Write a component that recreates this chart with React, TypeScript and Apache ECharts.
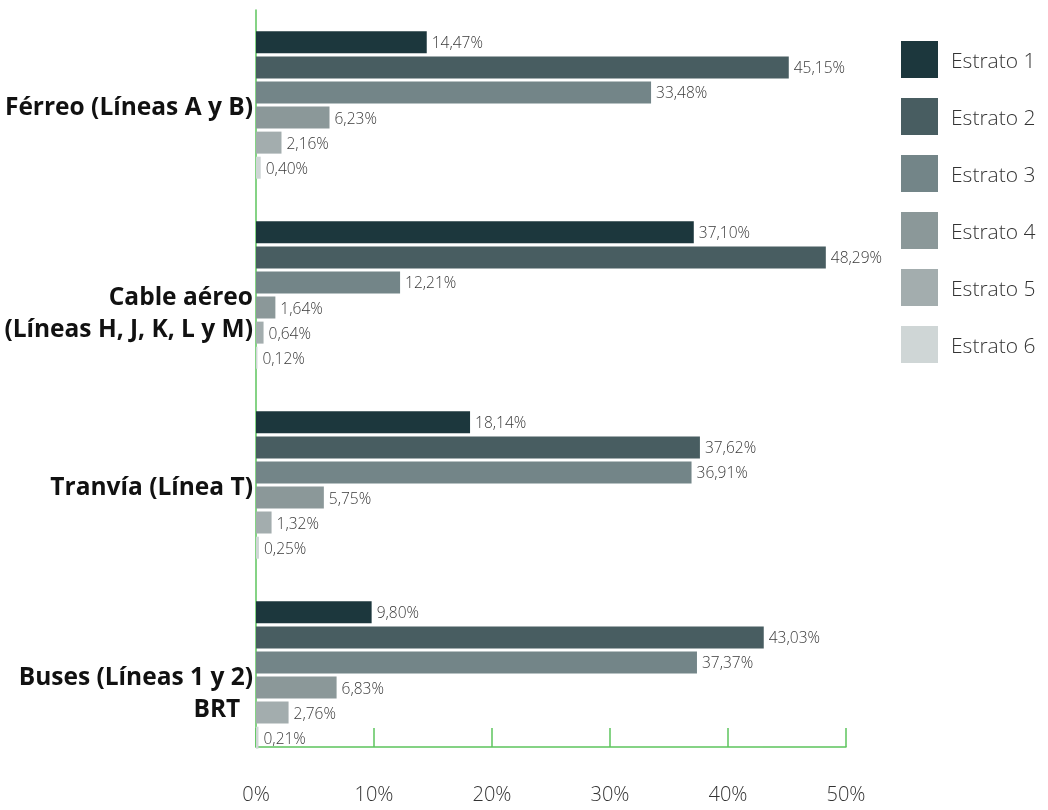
import React, { useEffect, useRef } from "react";
import * as echarts from "echarts";

const categories = [
  "Férreo (Líneas A y B)",
  "Cable aéreo\n(Líneas H, J, K, L y M)",
  "Tranvía (Línea T)",
  "Buses (Líneas 1 y 2)\nBRT  ",
];
const seriesNames = ["Estrato 1", "Estrato 2", "Estrato 3", "Estrato 4", "Estrato 5", "Estrato 6"];
const estrato1 = [14.47, 37.1, 18.14, 9.8];
const estrato2 = [45.15, 48.29, 37.62, 43.03];
const estrato3 = [33.48, 12.21, 36.91, 37.37];
const estrato4 = [6.23, 1.64, 5.75, 6.83];
const estrato5 = [2.16, 0.64, 1.32, 2.76];
const estrato6 = [0.4, 0.12, 0.25, 0.21];
const colors = ["#1c373d", "#485d61", "#738588", "#8b9899", "#a3adae", "#cfd6d6"];
const xTicks = [0, 10, 20, 30, 40, 50];

const GREEN = "#5cc45c";

export default function App() {
  const ref = useRef<HTMLDivElement>(null);
  useEffect(() => {
    if (!ref.current) return;
    const chart = echarts.init(ref.current, null, { renderer: "svg" });
    const all = [estrato1, estrato2, estrato3, estrato4, estrato5, estrato6];
    chart.setOption({
      animation: false,
      textStyle: { fontFamily: "Open Sans" },
      legend: {
        orient: "vertical",
        left: 896,
        top: 36,
        itemWidth: 37,
        itemHeight: 37,
        itemGap: 20,
        icon: "rect",
        data: seriesNames,
        textStyle: { fontSize: 21, color: "#333", fontWeight: 300, fontFamily: "Open Sans", padding: [0, 0, 0, 8] },
      },
      grid: [
        { left: 256, width: 590, top: 10, height: 760, outerBoundsMode: "none", containLabel: false },
        { left: 256, width: 590, top: 10, height: 737, outerBoundsMode: "none", containLabel: false },
      ],
      xAxis: [
        { type: "value", gridIndex: 0, min: 0, max: 50, interval: 10, show: false },
        {
          type: "value",
          gridIndex: 1,
          min: xTicks[0],
          max: xTicks[xTicks.length - 1],
          interval: 10,
          axisLine: { show: true, lineStyle: { color: GREEN, width: 1.5 } },
          axisTick: { show: true, inside: true, length: 19, lineStyle: { color: GREEN, width: 1.5 } },
          splitLine: { show: false },
          axisLabel: { formatter: "{value}%", fontSize: 20, color: "#333", fontWeight: 300, margin: 36 },
        },
      ],
      yAxis: [
        {
          type: "category",
          gridIndex: 0,
          inverse: true,
          data: categories,
          axisLine: { show: false },
          axisTick: { show: false },
          axisLabel: {
            fontSize: 24.5,
            fontWeight: "bold",
            color: "#111",
            margin: 3,
            lineHeight: 32,
            align: "right",
            formatter: (v: string) => (v.includes("\n") ? "\n" + v : v),
          },
        },
        {
          type: "value",
          gridIndex: 1,
          min: 0,
          max: 1,
          axisLine: { show: true, lineStyle: { color: GREEN, width: 1.5 } },
          axisTick: { show: false },
          axisLabel: { show: false },
          splitLine: { show: false },
        },
      ],
      series: all.map((d, i) => ({
        name: seriesNames[i],
        type: "bar",
        xAxisIndex: 0,
        yAxisIndex: 0,
        data: d,
        barWidth: 22,
        barGap: "14%",
        itemStyle: { color: colors[i] },
        label: {
          show: true,
          position: "right",
          distance: 5,
          fontSize: 15.5,
          color: "#3a3a3a",
          fontWeight: 300,
          formatter: (p: any) => p.value.toFixed(2).replace(".", ",") + "%",
        },
      })),
    });
    return () => chart.dispose();
  }, []);
  return <div ref={ref} style={{ position: "fixed", left: 0, top: 0, width: 1048, height: 810 }} />;
}
